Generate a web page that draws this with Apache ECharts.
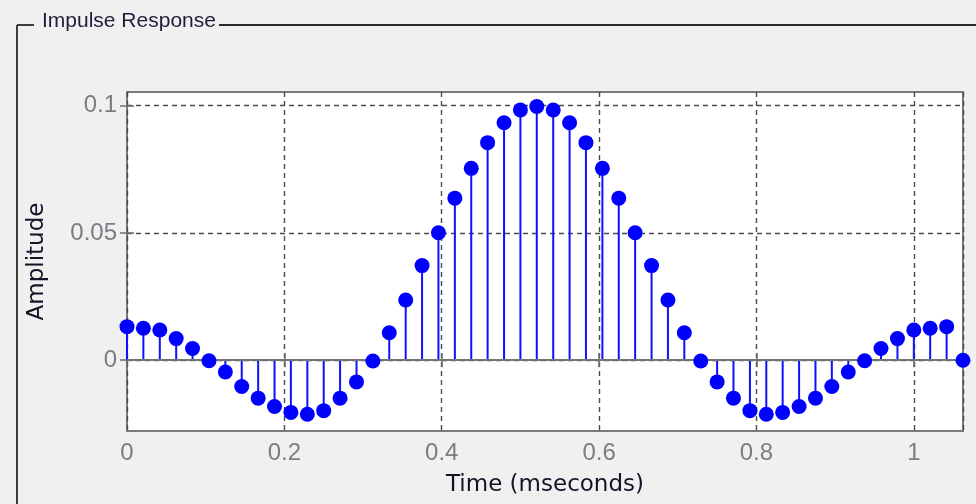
<!DOCTYPE html>
<html>
<head>
<meta charset="utf-8">
<script src="https://cdn.jsdelivr.net/npm/echarts@6/dist/echarts.min.js"></script>
<style>
html,body{margin:0;padding:0;background:#f0f0f0;}
#chart{width:976px;height:504px;}
</style>
</head>
<body>
<div id="chart"></div>
<script>
// Sample times (ms) and impulse response amplitudes
const TIME = [0, 0.0208, 0.0417, 0.0625, 0.0833, 0.1042, 0.125, 0.1458, 0.1667, 0.1875,
  0.2083, 0.2292, 0.25, 0.2708, 0.2917, 0.3125, 0.3333, 0.3542, 0.375, 0.3958,
  0.4167, 0.4375, 0.4583, 0.4792, 0.5, 0.5208, 0.5417, 0.5625, 0.5833, 0.6042,
  0.625, 0.6458, 0.6667, 0.6875, 0.7083, 0.7292, 0.75, 0.7708, 0.7917, 0.8125,
  0.8333, 0.8542, 0.875, 0.8958, 0.9167, 0.9375, 0.9583, 0.9792, 1, 1.0208,
  1.0417, 1.0625];
const AMPLITUDE = [0.0132, 0.0126, 0.0119, 0.0085, 0.0046, -0.0002, -0.0046, -0.0103, -0.0149, -0.0182,
  -0.0205, -0.0212, -0.0198, -0.0149, -0.0085, -0.0003, 0.0108, 0.0237, 0.0372, 0.0501,
  0.0637, 0.0754, 0.0855, 0.0933, 0.0983, 0.0997, 0.0983, 0.0933, 0.0855, 0.0754,
  0.0637, 0.0501, 0.0372, 0.0237, 0.0108, -0.0003, -0.0085, -0.0149, -0.0198, -0.0212,
  -0.0205, -0.0182, -0.0149, -0.0103, -0.0046, -0.0002, 0.0046, 0.0085, 0.0119, 0.0126,
  0.0132, 0];
const Y_TICKS = [0, 0.05, 0.1];
const X_MIN = 0, X_MAX = 1.0625, X_STEP = 0.2;
const Y_MIN = -0.0278, Y_MAX = 0.1054;

const points = TIME.map((t, i) => [t, AMPLITUDE[i]]);

const chart = echarts.init(document.getElementById('chart'), null, {renderer: 'canvas'});

const gridDash = {show: true, lineStyle: {color: '#4a4a4a', width: 1.4, type: [5, 4]}};
const tickStyle = {inside: true, length: 7, lineStyle: {color: '#6e6e6e', width: 1.5}};
const labelFont = {color: '#7c7c84', fontSize: 24, fontFamily: 'Liberation Sans, Arial, sans-serif'};

chart.setOption({
  backgroundColor: '#f0f0f0',
  animation: false,
  graphic: [
    {type: 'line', shape: {x1: 17, y1: 25, x2: 34, y2: 25}, style: {stroke: '#2a2a2a', lineWidth: 1.8}},
    {type: 'line', shape: {x1: 219, y1: 25, x2: 976, y2: 25}, style: {stroke: '#2a2a2a', lineWidth: 1.8}},
    {type: 'line', shape: {x1: 17, y1: 25, x2: 17, y2: 504}, style: {stroke: '#2a2a2a', lineWidth: 1.8}},
    {type: 'text', x: 42, y: 21, style: {text: 'Impulse Response', fill: '#1e1e3c', fontSize: 21,
      fontFamily: 'Liberation Sans, Arial, sans-serif', verticalAlign: 'middle', align: 'left'}}
  ],
  grid: {left: 127, right: 13, top: 92, bottom: 73, show: true, backgroundColor: '#ffffff',
    borderColor: '#7a7a7a', borderWidth: 2},
  xAxis: [{
    type: 'value', min: X_MIN, max: X_MAX, interval: X_STEP,
    name: 'Time (mseconds)', nameLocation: 'middle', nameGap: 43,
    nameTextStyle: {color: '#141428', fontSize: 23, fontFamily: 'DejaVu Sans, sans-serif'},
    axisLine: {show: false},
    axisTick: tickStyle,
    axisLabel: Object.assign({margin: 10, showMaxLabel: false}, labelFont),
    splitLine: gridDash
  }, {
    type: 'value', min: X_MIN, max: X_MAX, interval: X_STEP, position: 'top',
    axisLine: {show: false}, axisTick: tickStyle, axisLabel: {show: false}, splitLine: {show: false}
  }],
  yAxis: [{
    type: 'value', min: Y_MIN, max: Y_MAX,
    name: 'Amplitude', nameLocation: 'middle', nameGap: 78, nameRotate: 90,
    nameTextStyle: {color: '#141428', fontSize: 23, fontFamily: 'DejaVu Sans, sans-serif'},
    axisLine: {show: false},
    axisTick: Object.assign({customValues: Y_TICKS}, tickStyle),
    axisLabel: Object.assign({margin: 10, customValues: Y_TICKS}, labelFont),
    splitLine: gridDash
  }, {
    type: 'value', min: Y_MIN, max: Y_MAX, position: 'right',
    axisLine: {show: false},
    axisTick: Object.assign({customValues: Y_TICKS}, tickStyle),
    axisLabel: {show: false, customValues: Y_TICKS}, splitLine: {show: false}
  }],
  series: [{
    type: 'custom',
    xAxisIndex: 0, yAxisIndex: 0,
    z: 3,
    data: points,
    renderItem: function (params, api) {
      const p0 = api.coord([api.value(0), 0]);
      const p1 = api.coord([api.value(0), api.value(1)]);
      return {type: 'line', shape: {x1: p0[0], y1: p0[1], x2: p1[0], y2: p1[1]},
        style: {stroke: '#1010ff', lineWidth: 2}};
    }
  }, {
    type: 'scatter',
    xAxisIndex: 0, yAxisIndex: 0,
    z: 5,
    data: points,
    symbol: 'circle', symbolSize: 15,
    itemStyle: {color: '#0000ff', opacity: 1},
    markLine: {
      silent: true, symbol: 'none', z: 4,
      label: {show: false},
      lineStyle: {color: '#737373', width: 2, type: 'solid'},
      data: [{yAxis: 0}]
    }
  }]
});
</script>
</body>
</html>
